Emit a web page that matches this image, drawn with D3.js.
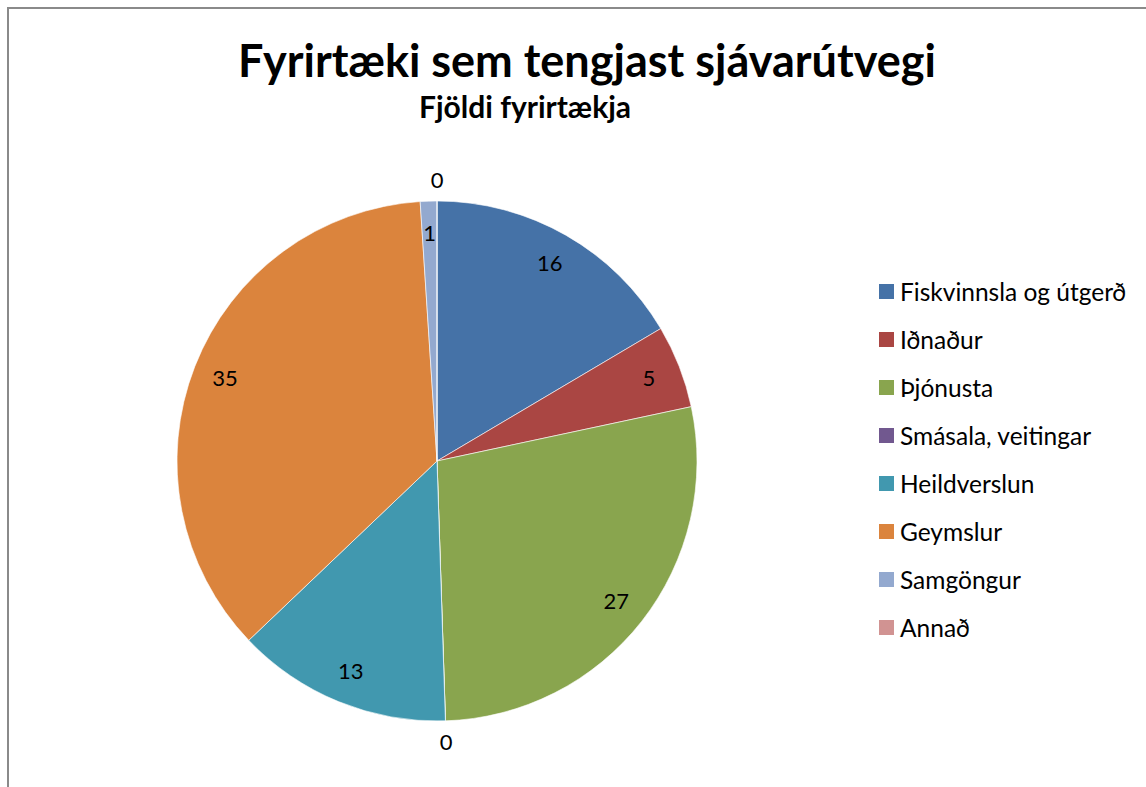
<!DOCTYPE html>
<html>
<head>
<meta charset="utf-8">
<script src="https://cdn.jsdelivr.net/npm/d3@7"></script>
<style>
  body { margin: 0; background: #fff; }
  text { font-family: Lato, "Open Sans", sans-serif; fill: #000; }
</style>
</head>
<body>
<svg id="chart" width="1146" height="787"></svg>
<script>
// data
const categories = ["Fiskvinnsla og útgerð", "Iðnaður", "Þjónusta", "Smásala, veitingar",
                    "Heildverslun", "Geymslur", "Samgöngur", "Annað"];
const values = [16, 5, 27, 0, 13, 35, 1, 0];
const colors = ["#4572A7", "#AA4643", "#89A54E", "#71588F", "#4198AF", "#DB843D", "#93A9CF", "#D19392"];
const title = "Fyrirtæki sem tengjast sjávarútvegi";
const subtitle = "Fjöldi fyrirtækja";

const svg = d3.select("#chart");
const cx = 437, cy = 461, radius = 260;

// chart frame (only top and left visible in the picture)
svg.append("path")
    .attr("d", "M8,787 L8,8 L1146,8")
    .attr("fill", "none")
    .attr("stroke", "#8a8a8a")
    .attr("stroke-width", 2);

svg.append("text")
    .attr("x", 587).attr("y", 77)
    .attr("text-anchor", "middle")
    .attr("font-size", 45).attr("font-weight", "bold")
    .text(title);

svg.append("text")
    .attr("x", 525).attr("y", 118)
    .attr("text-anchor", "middle")
    .attr("font-size", 30).attr("font-weight", "bold")
    .text(subtitle);

const data = categories.map((c, i) => ({ name: c, value: values[i], color: colors[i] }));

const pie = d3.pie().sort(null).value(d => d.value);
const arcs = pie(data);
const arc = d3.arc().innerRadius(0).outerRadius(radius);
const labelArc = d3.arc().innerRadius(radius * 0.875).outerRadius(radius * 0.875);
const outerLabelArc = d3.arc().innerRadius(radius + 21).outerRadius(radius + 21);

const g = svg.append("g").attr("transform", `translate(${cx},${cy})`);

g.selectAll("path.slice")
    .data(arcs)
    .enter()
    .append("path")
    .attr("class", "slice")
    .attr("d", arc)
    .attr("fill", d => d.data.color)
    .attr("stroke", "#fff")
    .attr("stroke-width", 0.6);

g.selectAll("text.label")
    .data(arcs)
    .enter()
    .append("text")
    .attr("class", "label")
    .attr("transform", d => `translate(${(d.value === 0 ? outerLabelArc : labelArc).centroid(d)})`)
    .attr("text-anchor", "middle")
    .attr("dy", "0.35em")
    .attr("font-size", 22)
    .text(d => d.data.value);

// legend
const legend = svg.append("g").attr("transform", "translate(879,292)");
const rows = legend.selectAll("g")
    .data(data)
    .enter()
    .append("g")
    .attr("transform", (d, i) => `translate(0,${i * 48})`);

rows.append("rect")
    .attr("x", 0).attr("y", -8)
    .attr("width", 15).attr("height", 15)
    .attr("fill", d => d.color);

rows.append("text")
    .attr("x", 21).attr("dy", "0.35em")
    .attr("font-size", 24.5)
    .text(d => d.name);
</script>
</body>
</html>
